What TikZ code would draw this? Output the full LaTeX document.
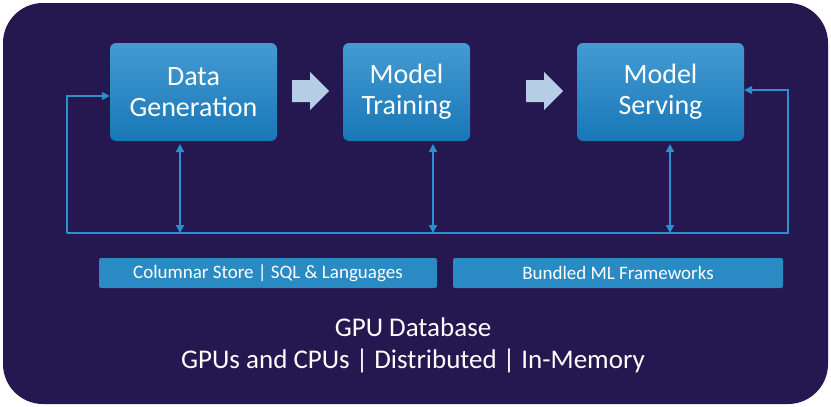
\documentclass[tikz,border=0pt]{standalone}
\usepackage{fontspec}
\setmainfont{Carlito}
\usetikzlibrary{arrows.meta}
\definecolor{bg}{HTML}{25174F}
\definecolor{btop}{HTML}{449BD2}
\definecolor{bbot}{HTML}{1877B7}
\definecolor{bar}{HTML}{2A8BC4}
\definecolor{ln}{HTML}{2D8FCC}
\definecolor{arr}{HTML}{B6CDE6}
\begin{document}
\begin{tikzpicture}[x=1pt,y=-1pt,
  stage/.style={rounded corners=6pt,top color=btop,bottom color=bbot,draw=none,minimum width=167pt,minimum height=98pt,text=white,font=\fontsize{28}{31}\selectfont,align=center},
  barbox/.style={rounded corners=2pt,fill=bar,minimum height=30pt,text=white,font=\fontsize{19}{21}\selectfont},
  conn/.style={draw=ln,line width=1.6pt},
  tip/.style={-{Triangle[length=8pt,width=8pt]}},
  dtip/.style={{Triangle[length=8pt,width=8pt]}-{Triangle[length=8pt,width=8pt]}},
  flow/.style={fill=arr}]
\useasboundingbox (0,0) rectangle (831,407);
\fill[white] (0,0) rectangle (831,407);
\fill[bg,rounded corners=40pt] (3,3) rectangle (828,404);
\node[stage] (dg) at (193.5,92) {Data\\Generation};
\node[stage,minimum width=127pt] (mt) at (406.5,92) {Model\\Training};
\node[stage] (ms) at (660.5,92) {Model\\Serving};
\foreach \x in {292,526}{
  \fill[flow] (\x,80) -- (\x+18,80) -- (\x+18,72) -- (\x+37,91) -- (\x+18,110) -- (\x+18,102) -- (\x,102) -- cycle;}
\coordinate (bl) at (67,233);
\coordinate (br) at (788,233);
\coordinate (tl) at (67,96);
\coordinate (tr) at (788,90);
\draw[conn,tip] (bl) -- (tl) -- (dg.west |- tl);
\draw[conn,tip] (bl) -- (br) -- (tr) -- (ms.east |- tr);
\coordinate (d1) at (180,233);
\coordinate (d2) at (433,233);
\coordinate (d3) at (670,233);
\draw[conn,dtip] (180,144) -- (d1);
\draw[conn,dtip] (433,144) -- (d2);
\draw[conn,dtip] (670,144) -- (d3);
\node[barbox,minimum width=338pt] (b1) at (268,273) {Columnar Store | SQL \& Languages};
\node[barbox,minimum width=330pt] (b2) at (618,273) {Bundled ML Frameworks};
\node[text=white,font=\fontsize{27}{30}\selectfont] (t1) at (413,327) {GPU Database};
\node[text=white,font=\fontsize{27}{30}\selectfont] (t2) at (413,361) {GPUs and CPUs | Distributed | In-Memory};
\end{tikzpicture}
\end{document}
